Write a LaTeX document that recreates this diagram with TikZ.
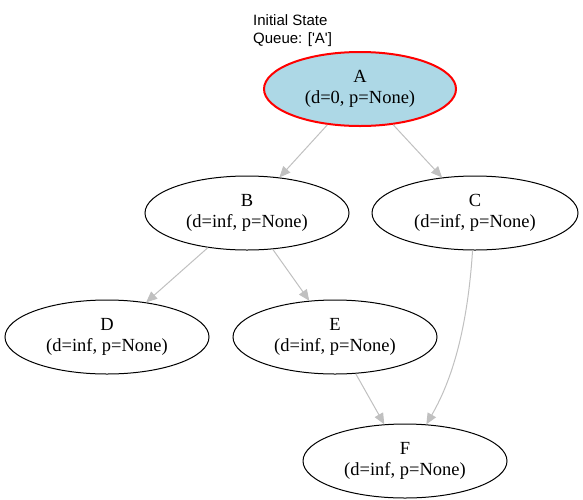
\documentclass[tikz,border=0pt]{standalone}
\usepackage{fontspec}
\setmainfont{Liberation Serif}
\newfontfamily\arialfont{Liberation Sans}
\usetikzlibrary{arrows.meta,shapes.geometric}
\definecolor{edgegray}{RGB}{192,192,192}
\definecolor{lightblue}{HTML}{ADD8E6}
\begin{document}
\begin{tikzpicture}[x=1pt,y=-1pt,
  statenode/.style={ellipse,draw=black,line width=1pt,inner sep=0pt,
    minimum width=204pt,minimum height=74pt,align=center,
    font=\fontsize{18.5}{21}\selectfont},
  startnode/.style={statenode,draw=red,line width=2pt,fill=lightblue,
    minimum width=192pt},
  edge/.style={draw=edgegray,line width=1pt,
    -{Triangle[length=11pt,width=9.5pt,fill=edgegray]}}]
\useasboundingbox (0,0) rectangle (583,499);
\node[anchor=west,align=left,font=\arialfont\fontsize{15}{18}\selectfont,inner sep=0pt]
  (title) at (253,31) {Initial State\\Queue: ['A']};
\node[startnode] (A) at (360,89) {A\\(d=0, p=None)};
\node[statenode] (B) at (247,213) {B\\(d=inf, p=None)};
\node[statenode,minimum width=206pt] (C) at (475,213) {C\\(d=inf, p=None)};
\node[statenode] (D) at (107,337) {D\\(d=inf, p=None)};
\node[statenode] (E) at (335,337) {E\\(d=inf, p=None)};
\node[statenode] (F) at (405,461) {F\\(d=inf, p=None)};
\draw[edge] (A) -- (B);
\draw[edge] (A) -- (C);
\draw[edge] (B) -- (D);
\draw[edge] (B) -- (E);
\draw[edge] (E) -- (F);
\draw[edge] (C) .. controls (468,320) and (455,375) .. (F);
\end{tikzpicture}
\end{document}
